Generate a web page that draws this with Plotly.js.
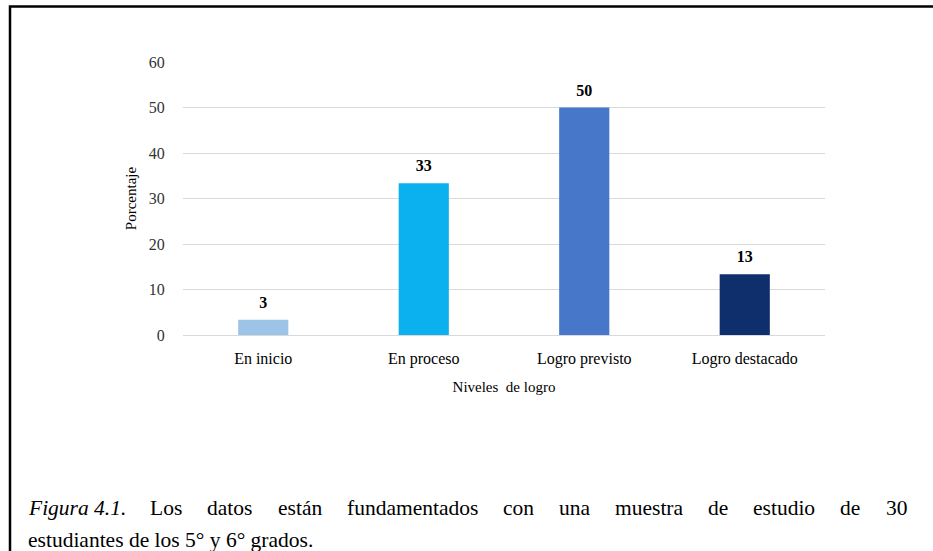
<!DOCTYPE html>
<html>
<head>
<meta charset="utf-8">
<script src="https://cdn.plot.ly/plotly-3.0.1.min.js"></script>
<style>
  html, body { margin: 0; padding: 0; background: #ffffff; }
  #chart { width: 933px; height: 551px; }
</style>
</head>
<body>
<div id="chart"></div>
<script>
// ---- Data ----
const categories = ["En inicio", "En proceso", "Logro previsto", "Logro destacado"];
const values = [3.33, 33.33, 50.0, 13.33];
const valueLabels = ["3", "33", "50", "13"];
const barColors = ["#9dc3e6", "#0bb0ee", "#4677c9", "#0e2e6c"];
const yTickVals = [0, 10, 20, 30, 40, 50, 60];
const xAxisTitle = "Niveles  de logro";
const yAxisTitle = "Porcentaje";
const captionItalic = "Figura 4.1.";
const captionLine1Words = ["Los", "datos", "están", "fundamentados", "con", "una", "muestra", "de", "estudio", "de", "30"];
const captionLine2 = "estudiantes de los 5° y 6° grados.";

// ---- Layout geometry (pixels) ----
const W = 933, H = 551;
const L = 183, R = 825, T = 62, B = 335;
const pw = R - L, ph = B - T;
const px = x => (x - L) / pw;
const py = y => (B - y) / ph;

const serif = '"Liberation Serif", "Times New Roman", serif';
const capSize = 21.5;

// Justify caption line 1 between x=26 and x=905
const cv = document.createElement('canvas').getContext('2d');
function tw(t, italic) {
  cv.font = (italic ? 'italic ' : '') + capSize + 'px "Liberation Serif"';
  return cv.measureText(t).width;
}
const words = [{t: captionItalic, it: true}].concat(captionLine1Words.map(w => ({t: w, it: false})));
const widths = words.map(w => tw(w.t, w.it));
const total = widths.reduce((a, b) => a + b, 0);
const xStart = 26, xEnd = 905;
const gap = (xEnd - xStart - total) / (words.length - 1);
const annotations = [];
let cx = xStart;
words.forEach((w, i) => {
  annotations.push({
    xref: 'paper', yref: 'paper', x: px(cx), y: py(508),
    xanchor: 'left', yanchor: 'middle', showarrow: false,
    text: w.it ? '<i>' + w.t + '</i>' : w.t,
    font: {family: serif, size: capSize, color: '#000'}
  });
  cx += widths[i] + gap;
});
annotations.push({
  xref: 'paper', yref: 'paper', x: px(26), y: py(540),
  xanchor: 'left', yanchor: 'middle', showarrow: false,
  text: captionLine2,
  font: {family: serif, size: capSize, color: '#000'}
});

const bars = {
  type: 'bar',
  x: categories,
  y: values,
  marker: {color: barColors, line: {width: 0}},
  hoverinfo: 'x+y'
};

const labels = {
  type: 'scatter',
  mode: 'markers+text',
  x: categories,
  y: values,
  text: valueLabels,
  texttemplate: '<b>%{text}</b>',
  textposition: 'top center',
  textfont: {family: serif, size: 16, color: '#000'},
  marker: {size: 11, opacity: 0, color: '#000'},
  cliponaxis: false,
  hoverinfo: 'skip'
};

const layout = {
  width: W, height: H,
  margin: {l: L, r: W - R, t: T, b: H - B, pad: 0},
  paper_bgcolor: '#ffffff',
  plot_bgcolor: 'rgba(0,0,0,0)',
  showlegend: false,
  bargap: 1 - 50 / 160,
  font: {family: serif, color: '#000'},
  xaxis: {
    type: 'category',
    showgrid: false, zeroline: false, showline: false,
    ticks: 'outside', ticklen: 9, tickcolor: 'rgba(0,0,0,0)',
    tickfont: {family: serif, size: 16, color: '#000'},
    title: {text: xAxisTitle, font: {family: serif, size: 15, color: '#000'}, standoff: 14}
  },
  yaxis: {
    range: [0, 60], autorange: false,
    tickvals: yTickVals,
    showgrid: true, gridcolor: '#d9d9d9', gridwidth: 1,
    zeroline: true, zerolinecolor: '#d9d9d9', zerolinewidth: 1,
    showline: false,
    ticks: 'outside', ticklen: 14, tickcolor: 'rgba(0,0,0,0)',
    tickfont: {family: serif, size: 16, color: '#333'},
    title: {text: yAxisTitle, font: {family: serif, size: 15, color: '#000'}, standoff: 8}
  },
  shapes: [{
    type: 'rect', xref: 'paper', yref: 'paper',
    x0: px(10), x1: px(945), y0: py(565), y1: py(6.5),
    line: {color: '#000', width: 2.5}, fillcolor: 'rgba(0,0,0,0)', layer: 'above'
  }],
  annotations: annotations
};

Plotly.newPlot('chart', [bars, labels], layout, {displayModeBar: false, staticPlot: true});
</script>
</body>
</html>
